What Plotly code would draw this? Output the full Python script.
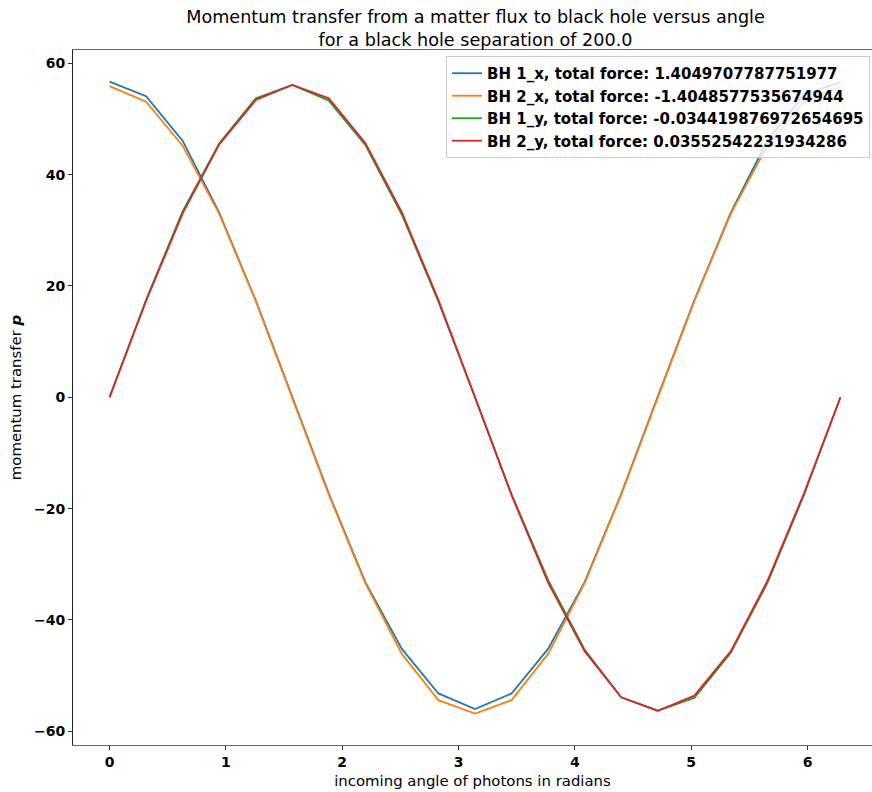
import plotly.graph_objects as go

# incoming photon angle (radians), 21 samples over one full turn
angle = [0.000, 0.314, 0.628, 0.942, 1.257, 1.571, 1.885, 2.199, 2.513, 2.827,
         3.142, 3.456, 3.770, 4.084, 4.398, 4.712, 5.027, 5.341, 5.655, 5.969, 6.283]

# momentum transfer per black hole component
bh1_x = [56.7, 54.1, 46.1, 33.2, 17.4, 0.1, -17.3, -33.2, -45.2, -53.2, -56.0,
         -53.2, -45.2, -33.2, -17.4, 0.1, 17.4, 33.2, 46.1, 54.4, 56.6]
bh2_x = [55.9, 53.1, 45.2, 33.0, 17.3, -0.1, -17.5, -33.4, -46.1, -54.4, -56.8,
         -54.4, -46.1, -33.4, -17.5, -0.1, 17.3, 33.0, 45.2, 53.2, 55.7]
bh1_y = [0.0, 17.5, 33.4, 45.6, 53.7, 56.1, 53.3, 45.3, 32.8, 17.2, 0.0,
         -17.4, -32.8, -45.3, -53.9, -56.3, -54.0, -45.9, -33.4, -17.6, 0.0]
bh2_y = [0.0, 17.3, 33.0, 45.4, 53.4, 56.1, 53.7, 45.7, 33.2, 17.5, 0.0,
         -17.6, -33.3, -45.6, -53.9, -56.3, -53.6, -45.6, -33.0, -17.3, 0.0]

names = [
    "BH 1_x, total force: 1.4049707787751977",
    "BH 2_x, total force: -1.4048577535674944",
    "BH 1_y, total force: -0.034419876972654695",
    "BH 2_y, total force: 0.03552542231934286",
]
colors = ["#1f77b4", "#ff7f0e", "#2ca02c", "#d62728"]
series = [bh1_x, bh2_x, bh1_y, bh2_y]

x_ticks = [0, 1, 2, 3, 4, 5, 6]
y_ticks = [-60, -40, -20, 0, 20, 40, 60]

FONT = "DejaVu Sans"

fig = go.Figure()
for name, color, values in zip(names, colors, series):
    fig.add_trace(go.Scatter(
        x=angle, y=values, mode="lines", name=name,
        line=dict(color=color, width=1.8),
    ))

W, H = 872, 792
L, R, T, B = 73, 0, 50, 47

fig.update_layout(
    width=W, height=H,
    margin=dict(l=L, r=R, t=T, b=B, pad=0),
    paper_bgcolor="white", plot_bgcolor="white",
    font=dict(family=FONT, color="black"),
    title=dict(
        text="Momentum transfer from a matter flux to black hole versus angle<br>"
             "for a black hole separation of 200.0",
        font=dict(family=FONT, size=17.6, color="black"),
        xref="container", x=475.5 / W, xanchor="center",
        yref="container", y=1 - 23 / H, yanchor="top",
    ),
    showlegend=True,
    legend=dict(
        x=0.9975, xanchor="right", y=0.9914, yanchor="top",
        bgcolor="rgba(255,255,255,0.8)", bordercolor="#cccccc", borderwidth=1,
        font=dict(family=FONT, size=15, color="black", weight="bold"),
        tracegroupgap=0,
    ),
    xaxis=dict(
        range=[-0.314, -0.314 + (W - L) / 116.33],
        tickvals=x_ticks, ticktext=[str(v) for v in x_ticks],
        ticks="outside", ticklen=4, tickwidth=1, tickcolor="#333",
        tickfont=dict(family=FONT, size=14, color="black", weight="bold"),
        showgrid=False, zeroline=False,
        showline=True, linecolor="#666", linewidth=1.3, mirror=True,
        title=dict(text="incoming angle of photons in radians",
                   font=dict(family=FONT, size=14.9, color="black"), standoff=6),
    ),
    yaxis=dict(
        range=[-62.46, 62.39],
        tickvals=y_ticks, ticktext=[f"{v}" if v >= 0 else f"\u2212{-v}" for v in y_ticks],
        ticks="outside", ticklen=4, tickwidth=1, tickcolor="#333",
        tickfont=dict(family=FONT, size=14, color="black", weight="bold"),
        showgrid=False, zeroline=False,
        showline=True, linecolor="#222", linewidth=1,
        title=dict(text="momentum transfer <b><i>p</i></b>",
                   font=dict(family=FONT, size=14.9, color="black"), standoff=8),
    ),
)

fig.write_html("out.html")
